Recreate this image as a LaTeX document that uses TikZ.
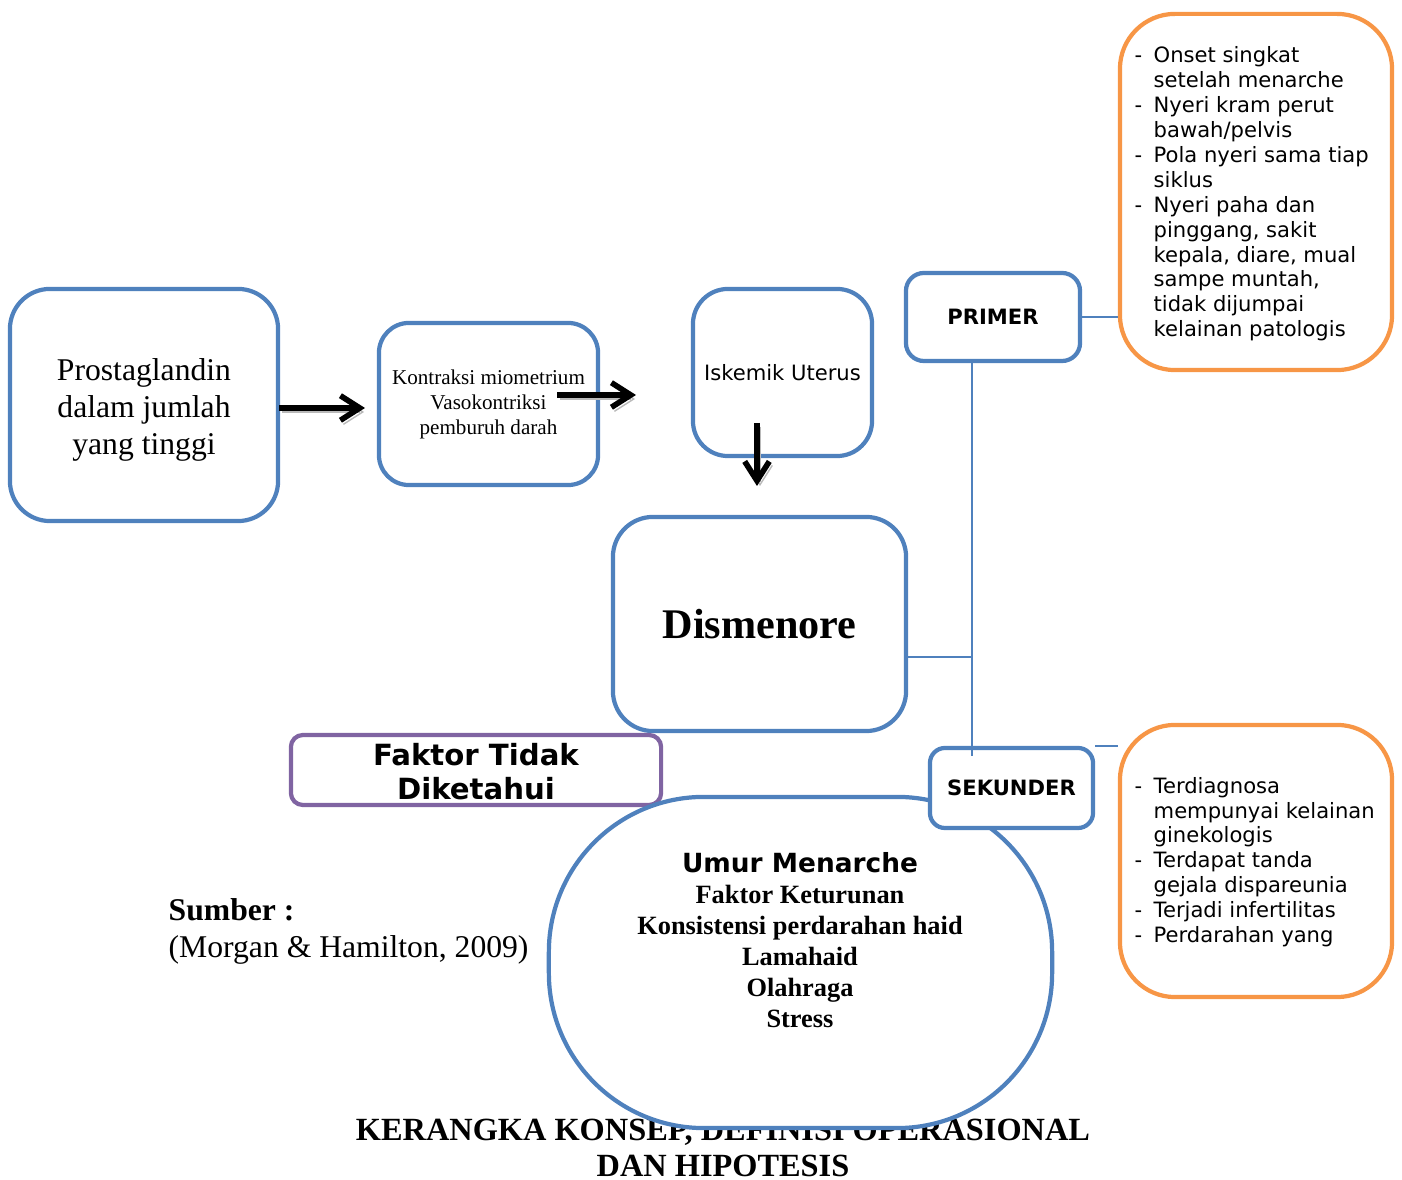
\documentclass[tikz,border=0pt]{standalone}
\usepackage{fontspec}
\setmainfont{Liberation Serif}
\newfontfamily\dejavu{DejaVu Sans}
\usepackage{xcolor}
\usepackage{tikz}
\usetikzlibrary{arrows.meta}
\usetikzlibrary{positioning}
\definecolor{boxblue}{HTML}{4F81BD}
\definecolor{boxorange}{HTML}{F79646}
\definecolor{boxpurple}{HTML}{8064A2}
\tikzset{bluebox/.style ={draw=boxblue, line width=1.2pt, fill=white, inner sep=0pt, align=center}}
\tikzset{orangebox/.style ={draw=boxorange, line width=1.2pt, fill=white, inner sep=0pt, rounded corners=0.55cm}}
\tikzset{flow/.style ={line width=1.6pt, -{Straight Barb[length=5.5pt,width=7pt]}, preaction={draw=gray!55, transform canvas={shift={(3,4)}}}}}
\tikzset{link/.style ={draw=boxblue, line width=0.6pt}}
\newcommand{\itm}{\makebox[5.4pt][l]{-}}
\newcommand{\cnt}{\hspace*{5.4pt}}

\begin{document}
\begin{tikzpicture}[x=0.01cm, y=-0.01cm]
\useasboundingbox (0,0) rectangle (1402,1180);
\node [align=center, font=\bfseries\fontsize{9.2}{10.2}\selectfont] (judul) at (723,1148) {KERANGKA KONSEP, DEFINISI OPERASIONAL\\DAN HIPOTESIS};
\node [bluebox, rounded corners=0.4cm, minimum width=2.68cm, minimum height=2.32cm] (prosta) at (144,405) {};
\node [align=center, font=\fontsize{9}{10.5}\selectfont] at (144,410) {Prostaglandin\\dalam jumlah\\yang tinggi};
\node [bluebox, rounded corners=0.3cm, minimum width=2.19cm, minimum height=1.62cm, font=\fontsize{6}{7.1}\selectfont] (kontraksi) at (488.5,404) {Kontraksi miometrium\\Vasokontriksi\\pemburuh darah};
\node [bluebox, rounded corners=0.35cm, minimum width=1.79cm, minimum height=1.67cm, font=\dejavu\fontsize{6}{7.1}\selectfont] (iskemik) at (782.5,372.5) {Iskemik Uterus};
\node [bluebox, rounded corners=0.4cm, minimum width=2.93cm, minimum height=2.14cm, font=\bfseries\fontsize{12}{14}\selectfont] (dismenore) at (759.5,624) {Dismenore};
\node [bluebox, rounded corners=0.18cm, minimum width=1.74cm, minimum height=0.88cm, font=\dejavu\bfseries\fontsize{6}{7.1}\selectfont] (primer) at (993,317) {PRIMER};
\node [orangebox, minimum width=2.72cm, minimum height=3.56cm] (onset) at (1256,192) {};
\node [orangebox, minimum width=2.72cm, minimum height=2.72cm] (gejala) at (1256,861) {};
\node [draw=boxpurple, line width=1.2pt, rounded corners=0.12cm, inner sep=0pt, minimum width=3.70cm, minimum height=0.70cm] (tidak) at (476,770) {};
\node [align=center, font=\dejavu\bfseries\fontsize{8.3}{9.7}\selectfont] at (476,772) {Faktor Tidak\\Diketahui};
\node [bluebox, rounded corners=1.55cm, minimum width=5.03cm, minimum height=3.31cm] (faktor) at (800.5,962.5) {};
\node [align=center, font=\bfseries\fontsize{7.5}{8.8}\selectfont] (faktorlist) at (800,940) {{\dejavu Umur Menarche}\\Faktor Keturunan\\Konsistensi perdarahan haid\\Lamahaid\\Olahraga\\Stress};
\node [bluebox, rounded corners=0.15cm, minimum width=1.63cm, minimum height=0.80cm, font=\dejavu\bfseries\fontsize{6}{7.1}\selectfont] (sekunder) at (1011.5,788) {SEKUNDER};
\node [anchor=west, inner sep=0pt, align=left, font=\dejavu\fontsize{6}{7.08}\selectfont] (onsetlist) at (1134,194) {\itm Onset singkat\\\cnt setelah menarche\\\itm Nyeri kram perut\\\cnt bawah/pelvis\\\itm Pola nyeri sama tiap\\\cnt siklus\\\itm Nyeri paha dan\\\cnt pinggang, sakit\\\cnt kepala, diare, mual\\\cnt sampe muntah,\\\cnt tidak dijumpai\\\cnt kelainan patologis};
\node [anchor=west, inner sep=0pt, align=left, font=\dejavu\fontsize{6}{7.08}\selectfont] (gejalalist) at (1134,862) {\itm Terdiagnosa\\\cnt mempunyai kelainan\\\cnt ginekologis\\\itm Terdapat tanda\\\cnt gejala dispareunia\\\itm Terjadi infertilitas\\\itm Perdarahan yang};
\node [anchor=west, inner sep=0pt, align=left, font=\fontsize{9}{10.5}\selectfont] (sumber) at (168,931) {\textbf{Sumber :}\\(Morgan \& Hamilton, 2009)};

\coordinate (jn) at (972,657);
\coordinate (p1) at (279,408);
\coordinate (k1) at (365,408);
\coordinate (k2) at (557,395);
\coordinate (i2) at (636,395);
\coordinate (i3) at (757,423);
\coordinate (d3) at (757,486);
\draw [link] (primer.south -| jn) -- (jn) -- ++(0,99);
\draw [link] (dismenore.east |- jn) -- (jn);
\draw [link] (primer.east) -- (onset.west |- primer.east);
\draw [link] (sekunder.north east) -- (gejala.west |- sekunder.north east);
\draw [flow] (p1) -- (k1);
\draw [flow] (k2) -- (i2);
\draw [flow] (i3) -- (d3);
\end{tikzpicture}
\end{document}
